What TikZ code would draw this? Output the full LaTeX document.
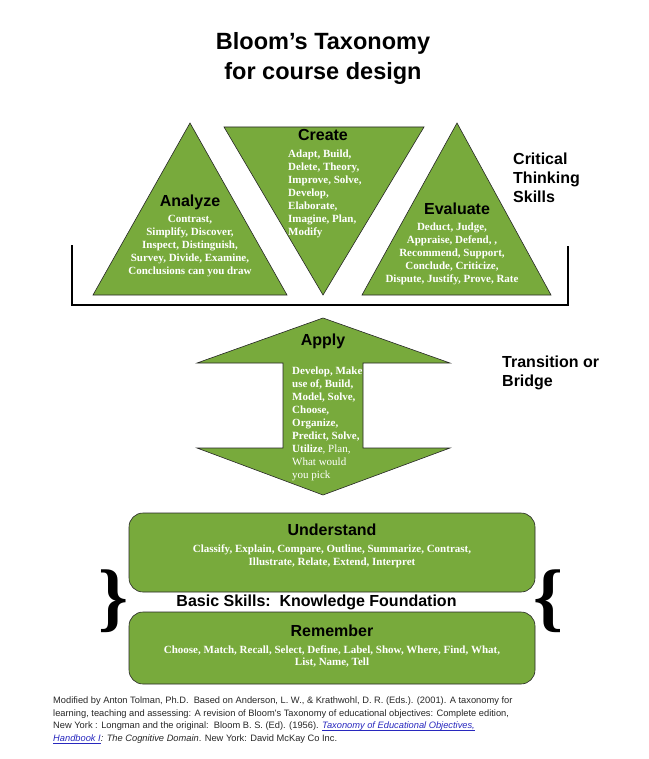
\documentclass[tikz,border=0pt]{standalone}
\usepackage{fontspec}
\setmainfont{Liberation Serif}
\newfontfamily\headfont{Liberation Sans}
\usepackage{xcolor}
\definecolor{bloomgreen}{RGB}{120,170,60}
\definecolor{linkblue}{RGB}{40,40,190}
\usetikzlibrary{positioning}
\newsavebox\linkbox
\newcommand\linkul[1]{\sbox\linkbox{#1}\rlap{\rule[-1.6pt]{\wd\linkbox}{0.5pt}}\usebox\linkbox}

\begin{document}
\begin{tikzpicture}[
  x=1pt,y=-1pt,
  every node/.style={inner sep=0pt},
  greenpart/.style={fill=bloomgreen,draw=black!85,line width=0.6pt},
  headtxt/.style={font=\headfont\bfseries\fontsize{16}{19}\selectfont,align=left},
  wordtxt/.style={font=\bfseries\fontsize{11}{12.9}\selectfont,text=white,align=center},
  levelbox/.style={greenpart,rounded corners=14pt,minimum width=406pt},
]
  \useasboundingbox (0,0) rectangle (648,759);

  % Title
  \node[font=\headfont\bfseries\fontsize{23.5}{30}\selectfont,align=center] (title) at (323,58)
    {Bloom’s Taxonomy\\for course design};

  % Critical thinking triangles
  \draw[greenpart] (190,123) -- (287,295) -- (93,295) -- cycle;
  \draw[greenpart] (224,127) -- (424,127) -- (323,295) -- cycle;
  \draw[greenpart] (457,123) -- (551,295) -- (362,295) -- cycle;
  \draw[line width=2.2pt] (72,245) |- (568,305) -- (568,246);

  \node[headtxt] (analyze) at (190,202) {Analyze};
  \node[wordtxt] (analyzewords) at (190,246)
    {Contrast,\\Simplify, Discover,\\Inspect, Distinguish,\\Survey, Divide, Examine,\\Conclusions can you draw};
  \node[headtxt] (create) at (323,135) {Create};
  \node[wordtxt,align=left,anchor=west] (createwords) at (288,194)
    {Adapt, Build,\\Delete, Theory,\\Improve, Solve,\\Develop,\\Elaborate,\\Imagine, Plan,\\Modify};
  \node[headtxt] (evaluate) at (457,209) {Evaluate};
  \node[wordtxt] (evaluatewords) at (452,254)
    {Deduct, Judge,\\Appraise, Defend, ,\\Recommend, Support,\\Conclude, Criticize,\\Dispute, Justify, Prove, Rate};
  \node[headtxt,anchor=west] (critical) at (513,178) {Critical\\Thinking\\Skills};

  % Apply arrow
  \draw[greenpart] (323,318) -- (450,363) -- (363,363) -- (363,448) -- (450,448) -- (323,495)
    -- (197,448) -- (283,448) -- (283,363) -- (197,363) -- cycle;
  \node[headtxt] (apply) at (323,341) {Apply};
  \node[wordtxt,align=left,anchor=west,font=\bfseries\fontsize{11}{13}\selectfont] (applywords) at (292,424)
    {Develop, Make\\use of, Build,\\Model, Solve,\\Choose,\\Organize,\\Predict, Solve,\\Utilize{\mdseries, Plan,}\\{\mdseries What would}\\{\mdseries you pick}};
  \node[headtxt,anchor=west] (bridge) at (502,373) {Transition or\\Bridge};

  % Basic skills
  \node[levelbox,minimum height=79pt] (understandbox) at (332,552.5) {};
  \node[headtxt] (understand) at (332,530) {Understand};
  \node[wordtxt] (understandwords) at (332,556.5)
    {Classify, Explain, Compare, Outline, Summarize, Contrast,\\Illustrate, Relate, Extend, Interpret};
  \node[headtxt] (basic) at (316.5,602) {Basic Skills:\ \ Knowledge Foundation};
  \node[levelbox,minimum height=72pt] (rememberbox) at (332,648) {};
  \node[headtxt] (remember) at (332,631) {Remember};
  \node[wordtxt] (rememberwords) at (332,656.5)
    {Choose, Match, Recall, Select, Define, Label, Show, Where, Find, What,\\List, Name, Tell};
  \node[font=\bfseries\fontsize{76}{76}\selectfont] (leftbrace) at (113,601) {\}};
  \node[font=\bfseries\fontsize{76}{76}\selectfont] (rightbrace) at (548,601) {\{};

  % Reference
  \node[font=\headfont\fontsize{9.3}{12.8}\selectfont,align=left,anchor=west,text=black!85] (source) at (53,720)
    {Modified by Anton Tolman, Ph.D.\ \ Based on Anderson, L. W., \& Krathwohl, D. R. (Eds.). (2001). A taxonomy for\\
     learning, teaching and assessing: A revision of Bloom's Taxonomy of educational objectives: Complete edition,\\
     New York : Longman and the original:\ \ Bloom B. S. (Ed). (1956). {\color{linkblue}\itshape\linkul{Taxonomy of Educational Objectives,}}\\
     {\color{linkblue}\itshape\linkul{Handbook I}}\textit{: The Cognitive Domain}. New York: David McKay Co Inc.};
\end{tikzpicture}
\end{document}
